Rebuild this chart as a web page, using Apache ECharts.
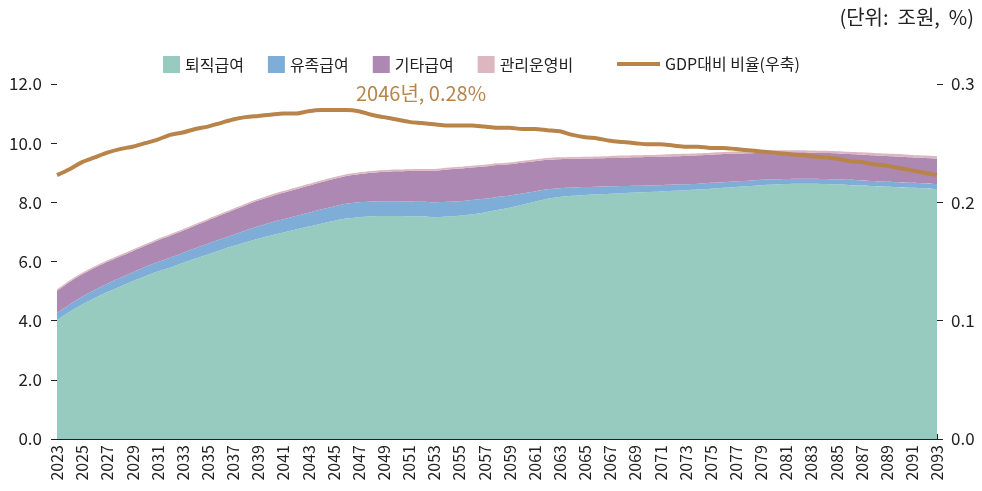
<!DOCTYPE html>
<html>
<head>
<meta charset="utf-8">
<script src="https://cdn.jsdelivr.net/npm/echarts@6/dist/echarts.min.js"></script>
<style>
  html, body, #main { width: 100%; height: 100%; margin: 0; background: #fff; }
</style>
</head>
<body>
<div id="main"></div>
<script>
var years = [];
for (var y = 2023; y <= 2093; y++) years.push(String(y));

// 퇴직급여 (조원)
var retire = [
  4.02, 4.30, 4.55, 4.77, 4.97, 5.15, 5.33, 5.50, 5.66, 5.80,
  5.95, 6.10, 6.24, 6.38, 6.52, 6.65, 6.77, 6.88, 6.98, 7.08,
  7.18, 7.28, 7.37, 7.45, 7.50, 7.53, 7.54, 7.54, 7.53, 7.52,
  7.50, 7.52, 7.55, 7.60, 7.66, 7.74, 7.82, 7.92, 8.02, 8.12,
  8.18, 8.22, 8.25, 8.27, 8.29, 8.31, 8.33, 8.35, 8.37, 8.39,
  8.41, 8.43, 8.46, 8.49, 8.52, 8.55, 8.58, 8.60, 8.62, 8.63,
  8.63, 8.62, 8.61, 8.59, 8.57, 8.55, 8.53, 8.51, 8.49, 8.47, 8.45
];
// 유족급여
var survivor = [
  0.24, 0.25, 0.26, 0.27, 0.28, 0.29, 0.30, 0.31, 0.32, 0.33,
  0.34, 0.35, 0.36, 0.37, 0.38, 0.40, 0.42, 0.44, 0.45, 0.46,
  0.47, 0.48, 0.49, 0.50, 0.50, 0.50, 0.50, 0.50, 0.50, 0.50,
  0.50, 0.50, 0.49, 0.48, 0.46, 0.44, 0.41, 0.38, 0.35, 0.32,
  0.30, 0.28, 0.27, 0.26, 0.25, 0.24, 0.23, 0.22, 0.21, 0.21,
  0.20, 0.20, 0.20, 0.19, 0.19, 0.18, 0.18, 0.18, 0.17, 0.17,
  0.17, 0.17, 0.17, 0.17, 0.17, 0.17, 0.17, 0.17, 0.17, 0.17, 0.17
];
// 기타급여
var other = [
  0.75, 0.76, 0.76, 0.75, 0.74, 0.73, 0.72, 0.72, 0.73, 0.74,
  0.75, 0.77, 0.79, 0.81, 0.83, 0.85, 0.87, 0.88, 0.89, 0.90,
  0.91, 0.92, 0.93, 0.94, 0.95, 0.97, 0.99, 1.01, 1.03, 1.05,
  1.07, 1.09, 1.10, 1.10, 1.09, 1.08, 1.06, 1.04, 1.02, 1.00,
  0.98, 0.97, 0.96, 0.96, 0.96, 0.96, 0.96, 0.96, 0.96, 0.96,
  0.96, 0.96, 0.95, 0.95, 0.94, 0.93, 0.92, 0.91, 0.90, 0.89,
  0.88, 0.88, 0.88, 0.87, 0.87, 0.87, 0.87, 0.87, 0.86, 0.86, 0.86
];
// 관리운영비
var admin = [
  0.05, 0.05, 0.05, 0.05, 0.05, 0.05, 0.05, 0.05, 0.05, 0.05,
  0.05, 0.05, 0.05, 0.05, 0.05, 0.05, 0.05, 0.06, 0.06, 0.06,
  0.06, 0.06, 0.06, 0.06, 0.06, 0.06, 0.06, 0.06, 0.06, 0.06,
  0.06, 0.06, 0.06, 0.06, 0.06, 0.06, 0.06, 0.06, 0.06, 0.06,
  0.06, 0.06, 0.06, 0.06, 0.07, 0.07, 0.07, 0.07, 0.07, 0.07,
  0.07, 0.07, 0.07, 0.07, 0.07, 0.07, 0.07, 0.07, 0.07, 0.07,
  0.07, 0.07, 0.07, 0.08, 0.08, 0.08, 0.08, 0.08, 0.08, 0.08, 0.08
];
// GDP대비 비율 (%, 우축)
var gdpRatio = [
  0.223, 0.228, 0.234, 0.238, 0.242, 0.245, 0.247, 0.250, 0.253, 0.257,
  0.259, 0.262, 0.264, 0.267, 0.270, 0.272, 0.273, 0.274, 0.275, 0.275,
  0.277, 0.278, 0.278, 0.278, 0.277, 0.274, 0.272, 0.270, 0.268, 0.267,
  0.266, 0.265, 0.265, 0.265, 0.264, 0.263, 0.263, 0.262, 0.262, 0.261,
  0.260, 0.257, 0.255, 0.254, 0.252, 0.251, 0.250, 0.249, 0.249, 0.248,
  0.247, 0.247, 0.246, 0.246, 0.245, 0.244, 0.243, 0.242, 0.241, 0.240,
  0.239, 0.238, 0.237, 0.235, 0.234, 0.232, 0.231, 0.229, 0.227, 0.225, 0.223
];

var font = "'Noto Sans CJK KR', 'Noto Sans', sans-serif";
var colors = ['#97cbbf', '#7eaed8', '#ad88b3', '#ddb7c0', '#b9844a'];

function area(name, data, color) {
  return {
    name: name, type: 'line', stack: 'total', data: data,
    symbol: 'none', smooth: 0.3,
    lineStyle: { width: 0 },
    itemStyle: { color: color },
    areaStyle: { color: color, opacity: 1 }
  };
}

var chart = echarts.init(document.getElementById('main'));
chart.setOption({
  animation: false,
  textStyle: { fontFamily: font },
  grid: { left: 57, right: 45, top: 84, bottom: 52 },
  legend: [{
    left: 158, top: 51, itemWidth: 17, itemHeight: 17, itemGap: 24,
    icon: 'rect',
    textStyle: { fontSize: 16, color: '#222', fontFamily: font },
    data: ['퇴직급여', '유족급여', '기타급여', '관리운영비']
  }, {
    left: 612, top: 51, itemWidth: 43, itemHeight: 4, icon: 'rect',
    textStyle: { fontSize: 16, color: '#222', fontFamily: font },
    data: ['GDP대비 비율(우축)']
  }],
  graphic: [{
    type: 'text', right: 8, top: 7,
    style: { text: '(단위:  조원,  %)', fontSize: 20, fill: '#222', fontFamily: font }
  }, {
    type: 'text', left: 356, top: 83,
    style: { text: '2046년, 0.28%', fontSize: 20, fill: '#b9844a', fontFamily: font }
  }],
  xAxis: {
    type: 'category', data: years, boundaryGap: false,
    axisLine: { lineStyle: { color: '#222', width: 1 } },
    axisTick: { inside: true, length: 5, interval: 0, lineStyle: { color: '#222' } },
    axisLabel: { interval: 1, rotate: 90, fontSize: 16, color: '#222', margin: 6 }
  },
  yAxis: [{
    type: 'value', min: 0, max: 12, interval: 2,
    splitLine: { show: false },
    axisLine: { show: false },
    axisTick: { show: true, length: 6, lineStyle: { color: '#222' } },
    axisLabel: { fontSize: 17, color: '#222', margin: 15,
      formatter: function (v) { return v.toFixed(1); } }
  }, {
    type: 'value', min: 0, max: 0.3, interval: 0.1,
    splitLine: { show: false },
    axisLine: { show: false },
    axisTick: { show: true, length: 6, lineStyle: { color: '#222' } },
    axisLabel: { fontSize: 17, color: '#222', margin: 14,
      formatter: function (v) { return v.toFixed(1); } }
  }],
  series: [
    area('퇴직급여', retire, colors[0]),
    area('유족급여', survivor, colors[1]),
    area('기타급여', other, colors[2]),
    area('관리운영비', admin, colors[3]),
    {
      name: 'GDP대비 비율(우축)', type: 'line', yAxisIndex: 1, data: gdpRatio,
      symbol: 'none', smooth: 0.3,
      lineStyle: { width: 4, color: colors[4] },
      itemStyle: { color: colors[4] }
    }
  ]
});
</script>
</body>
</html>
